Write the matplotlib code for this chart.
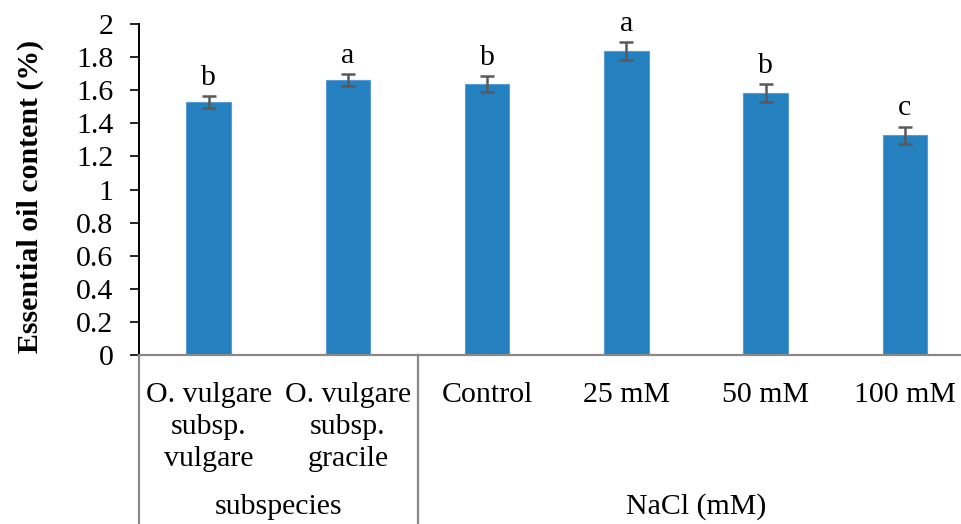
import numpy as np
from matplotlib import pyplot as plt
from matplotlib.lines import Line2D
import matplotlib.transforms as mtransforms

plt.rcParams['font.family'] = ['Liberation Serif', 'DejaVu Serif']

# data
categories = ["O. vulgare\nsubsp.\nvulgare", "O. vulgare\nsubsp.\ngracile",
              "Control", "25 mM", "50 mM", "100 mM"]
values = [1.53, 1.663, 1.637, 1.837, 1.583, 1.328]
errors = [0.035, 0.036, 0.050, 0.052, 0.052, 0.052]
letters = ["b", "a", "b", "a", "b", "c"]
groups = ["subspecies", "NaCl (mM)"]
group_centers = [0.5, 3.5]
group_edges = [-0.5, 1.5]

fs = 21.5

fig = plt.figure(figsize=(9.62, 5.24), dpi=100)
ax = fig.add_axes([139 / 962, 1 - 355 / 524, 1 - 139 / 962, 331 / 524])

x = np.arange(len(values))
ax.bar(x, values, width=0.32, color='#2580BF', edgecolor='#5B9BD5', linewidth=0.8, zorder=2)
ax.errorbar(x, values, yerr=errors, fmt='none', ecolor='#595959', elinewidth=1.8,
            capsize=4.8, capthick=1.8, zorder=3)

for xi, v, e, l in zip(x, values, errors, letters):
    ax.annotate(l, (xi, v + e), xytext=(0, 8), textcoords='offset points',
                ha='center', va='baseline', fontsize=fs)

ax.set_ylim(0, 2)
ax.set_xlim(-0.5, 5.41)
ax.set_yticks(np.arange(0, 2.01, 0.2))
ax.set_yticklabels(['0', '0.2', '0.4', '0.6', '0.8', '1', '1.2', '1.4', '1.6', '1.8', '2'])
ax.tick_params(axis='y', direction='out', length=6.5, width=1.2, pad=12, labelsize=fs)
ax.set_xticks([])

for s in ['top', 'right']:
    ax.spines[s].set_visible(False)
ax.spines['left'].set_linewidth(1.4)
ax.spines['bottom'].set_color('#898989')
ax.spines['bottom'].set_linewidth(1.6)

ax.set_ylabel('Essential oil content (%)', fontsize=fs, fontweight='bold')
ax.yaxis.set_label_coords(-0.116, 0.479)

trans = mtransforms.blended_transform_factory(ax.transData, ax.transAxes)
for xi, c in zip(x, categories):
    ax.text(xi, -0.082, c, transform=trans, ha='center', va='top', fontsize=fs,
            linespacing=1.3)
for gc, g in zip(group_centers, groups):
    ax.text(gc, -0.5, g, transform=trans, ha='center', va='bottom', fontsize=fs)
for ge in group_edges:
    ax.add_line(Line2D([ge, ge], [0, -0.52], transform=trans, color='#898989',
                       linewidth=1.6, clip_on=False))

fig.savefig('out.png', dpi=100)
